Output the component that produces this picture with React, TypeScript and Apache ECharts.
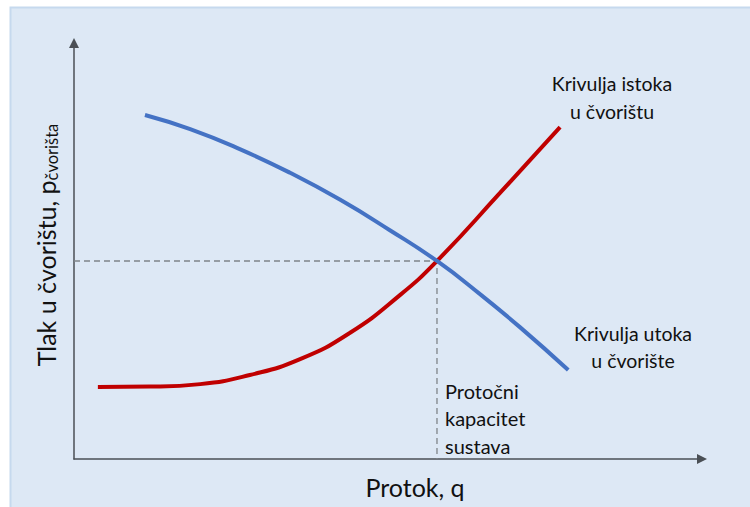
import React, { useEffect, useRef } from "react";
import * as echarts from "echarts";

// Flow q (0..100 relative units) and node pressure (0..100 relative units)
const inflowQ = [11.3, 18.5, 26.4, 34.4, 42.4, 50.3, 57.8, 64.6, 71.0, 78.7];
const inflowP = [82.7, 79.3, 74.5, 68.8, 62.3, 55.0, 47.6, 39.7, 31.7, 21.4];
const outflowQ = [3.8, 12.1, 20.1, 28.0, 36.0, 43.9, 51.9, 57.8, 67.8, 77.4];
const outflowP = [17.3, 17.4, 18.0, 20.2, 24.0, 30.3, 39.4, 47.6, 63.9, 79.8];
const capacityQ = 57.8;
const capacityP = 47.6;

const labelIstoka = ["Krivulja istoka", "u čvorištu"];
const labelUtoka = ["Krivulja utoka", "u čvorište"];
const labelCapacity = ["Protočni", "kapacitet", "sustava"];
const xName = "Protok, q";
const yNameMain = "Tlak u čvorištu, p";
const yNameSub = "čvorišta";

const FONT = "Lato";

export default function App() {
  const ref = useRef<HTMLDivElement>(null);
  useEffect(() => {
    if (!ref.current) return;
    const chart = echarts.init(ref.current, undefined, { renderer: "svg" });
    const zip = (a: number[], b: number[]) => a.map((v, i) => [v, b[i]]);
    chart.setOption({
      animation: false,
      backgroundColor: "#ffffff",
      grid: { left: 74, top: 43, width: 628, height: 416 },
      xAxis: {
        type: "value",
        min: 0,
        max: 100,
        axisLine: {
          show: true,
          symbol: ["none", "triangle"],
          symbolSize: [10, 10],
          lineStyle: { color: "#4a4f55", width: 1.5 },
        },
        axisTick: { show: false },
        axisLabel: { show: false },
        splitLine: { show: false },
      },
      yAxis: {
        type: "value",
        min: 0,
        max: 100,
        axisLine: {
          show: true,
          symbol: ["none", "triangle"],
          symbolSize: [10, 10],
          lineStyle: { color: "#4a4f55", width: 1.5 },
        },
        axisTick: { show: false },
        axisLabel: { show: false },
        splitLine: { show: false },
      },
      graphic: [
        {
          type: "rect",
          z: -10,
          silent: true,
          shape: { x: 10.5, y: 7.5, width: 745, height: 505 },
          style: { fill: "#dde8f5", stroke: "#c6d9ee", lineWidth: 2 },
        },
        {
          type: "text",
          x: 415,
          y: 487,
          style: {
            text: xName,
            font: `25px ${FONT}`,
            fill: "#111",
            align: "center",
            verticalAlign: "middle",
          },
        },
        {
          type: "text",
          x: 46,
          y: 245,
          rotation: Math.PI / 2,
          style: {
            text: `{a|${yNameMain}}{b|${yNameSub}}`,
            align: "center",
            verticalAlign: "middle",
            rich: {
              a: { font: `25px ${FONT}`, fill: "#111", verticalAlign: "bottom" },
              b: { font: `16.5px ${FONT}`, fill: "#111", verticalAlign: "bottom", padding: [0, 0, -2, 0] },
            },
          },
        },
        {
          type: "text",
          x: 612,
          y: 97,
          style: {
            text: labelIstoka.join("\n"),
            font: `19.5px ${FONT}`,
            lineHeight: 28,
            fill: "#111",
            align: "center",
            verticalAlign: "middle",
          },
        },
        {
          type: "text",
          x: 633,
          y: 347,
          style: {
            text: labelUtoka.join("\n"),
            font: `19.5px ${FONT}`,
            lineHeight: 27,
            fill: "#111",
            align: "center",
            verticalAlign: "middle",
          },
        },
        {
          type: "text",
          x: 445,
          y: 418,
          style: {
            text: labelCapacity.join("\n"),
            font: `20px ${FONT}`,
            lineHeight: 27.5,
            fill: "#111",
            align: "left",
            verticalAlign: "middle",
          },
        },
      ],
      series: [
        {
          type: "line",
          data: [
            [0, capacityP],
            [capacityQ, capacityP],
            [capacityQ, 0],
          ],
          showSymbol: false,
          lineStyle: { color: "#7f8489", width: 1.3, type: [6, 4] },
          z: 1,
        },
        {
          type: "line",
          data: zip(inflowQ, inflowP),
          smooth: 0.5,
          showSymbol: false,
          lineStyle: { color: "#4472c4", width: 4 },
          z: 3,
        },
        {
          type: "line",
          data: zip(outflowQ, outflowP),
          smooth: 0.5,
          showSymbol: false,
          lineStyle: { color: "#c00000", width: 4 },
          z: 2,
        },
      ],
    });
    return () => chart.dispose();
  }, []);
  return (
    <div
      ref={ref}
      style={{ position: "fixed", left: 0, top: 0, width: 750, height: 507 }}
    />
  );
}
